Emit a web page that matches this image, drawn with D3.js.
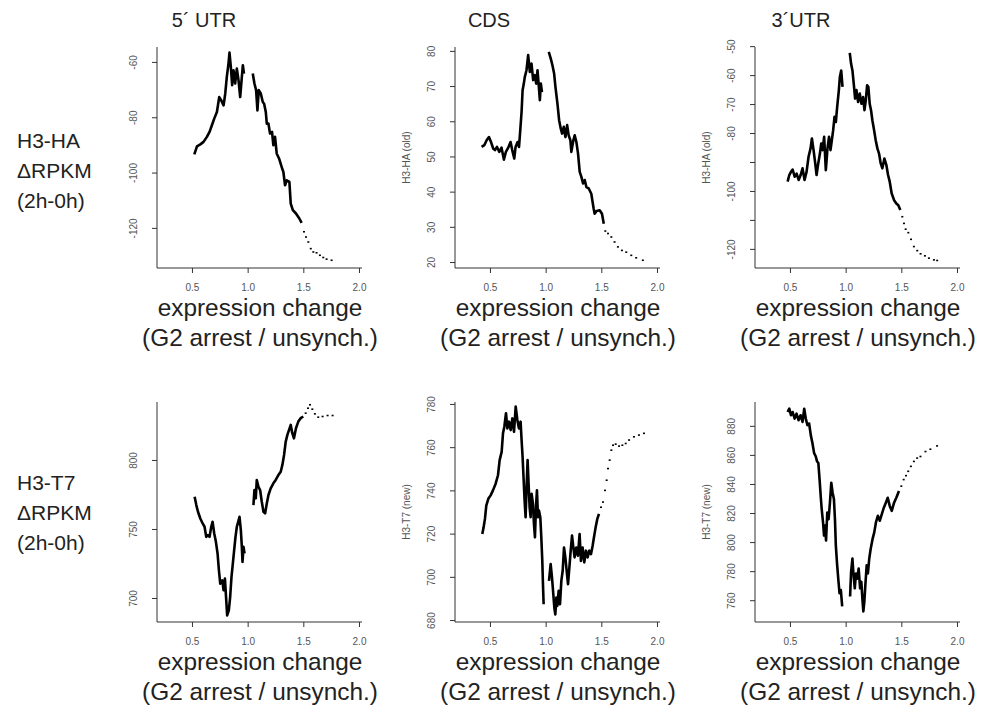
<!DOCTYPE html>
<html>
<head>
<meta charset="utf-8">
<script src="https://cdn.jsdelivr.net/npm/d3@7"></script>
<style>
  body { margin: 0; background: #fff; }
  text { font-family: "Liberation Sans", Arial, sans-serif; }
</style>
</head>
<body>
<div id="chart"></div>
<script>
// ---- data ----
const colTitles = ["5\u00b4 UTR", "CDS", "3\u00b4UTR"];
const rowLabels = [["H3-HA", "\u0394RPKM", "(2h-0h)"], ["H3-T7", "\u0394RPKM", "(2h-0h)"]];
const yTitles = [[null, "H3-HA (old)", "H3-HA (old)"], [null, "H3-T7 (new)", "H3-T7 (new)"]];
const xTitle = ["expression change", "(G2 arrest / unsynch.)"];
const xTicks = [0.5, 1.0, 1.5, 2.0];

// y ticks for each panel (row 1 then row 2)
const yTicks = [
  [-60, -80, -100, -120],
  [20, 30, 40, 50, 60, 70, 80],
  [-50, -60, -70, -80, -90, -100, -110, -120],
  [700, 750, 800],
  [680, 700, 720, 740, 760, 780],
  [760, 780, 800, 820, 840, 860, 880]
];
const yHidden = [[], [], [-90, -110], [], [], []]; // ticks drawn without a label

// H3-HA, 5'UTR  (null = gap)
const ha5_x = [0.521,0.545,0.575,0.604,0.634,0.658,0.679,0.70,0.724,0.745,0.763,0.784,0.799,0.813,0.828,0.837,0.849,0.861,0.873,0.888,0.903,0.918,0.933,0.948,0.957,0.967,0.99,
  1.046,1.061,1.076,1.088,1.10,1.118,1.136,1.148,1.163,1.172,1.187,1.201,1.219,1.231,1.246,1.261,1.282,1.306,1.321,1.336,1.351,1.375,1.387,1.406,1.434,1.464,1.485];
const ha5_y = [-93.4,-90.5,-89.8,-88.9,-87.1,-85.3,-82.9,-80.5,-78.1,-72.7,-73.9,-75.7,-71.4,-65.4,-60.6,-56.6,-61.8,-68.4,-63.0,-67.8,-62.4,-66.6,-72.7,-65.4,-61.2,-64.2,null,
  -64.2,-67.8,-70.2,-77.5,-70.2,-71.4,-74.5,-75.1,-78.1,-82.3,-82.3,-85.9,-85.3,-90.1,-87.1,-93.1,-94.9,-98.0,-99.8,-104.6,-102.8,-103.4,-111.2,-113.6,-114.8,-116.6,-118.2];
const ha5_tx = [1.506,1.524,1.545,1.567,1.590,1.619,1.649,1.679,1.709,1.754];
const ha5_ty = [-121.4,-123.3,-125.1,-127.5,-128.7,-129.0,-129.9,-130.7,-131.3,-131.7];

// H3-HA, CDS
const haC_x = [0.425,0.449,0.470,0.491,0.509,0.530,0.545,0.563,0.584,0.604,0.625,0.643,0.664,0.685,0.700,0.718,0.730,0.748,0.761,0.772,0.784,0.793,0.804,0.813,0.828,0.843,0.858,0.873,0.888,0.903,0.915,0.927,0.939,0.948,0.957,0.967,0.99,
  1.028,1.046,1.061,1.076,1.088,1.106,1.121,1.136,1.148,1.163,1.178,1.193,1.207,1.222,1.231,1.249,1.261,1.276,1.291,1.306,1.321,1.336,1.351,1.366,1.387,1.410,1.431,1.440,1.458,1.485,1.506,1.522];
const haC_y = [52.7,53.2,54.6,55.5,54.1,52.2,51.8,52.7,51.3,52.5,49.1,51.3,52.5,54.1,51.8,49.4,52.7,54.1,52.7,57.4,62.7,68.8,70.7,72.6,74.5,78.8,74.0,76.4,71.7,73.1,70.7,74.5,69.8,66.0,70.7,68.3,null,
  79.7,77.8,75.9,73.6,69.8,65.0,60.3,57.9,56.5,58.4,55.5,58.9,56.0,54.6,51.3,54.6,56.0,54.1,50.8,45.6,44.2,42.3,43.3,41.3,40.9,39.4,35.2,33.7,34.5,34.7,33.7,30.9];
const haC_tx = [1.536,1.560,1.590,1.619,1.649,1.685,1.724,1.769,1.813,1.873];
const haC_ty = [28.8,28.1,27.1,25.7,24.3,23.3,22.8,21.9,21.2,20.5];

// H3-HA, 3'UTR
const ha3_x = [0.479,0.494,0.509,0.524,0.542,0.560,0.578,0.596,0.613,0.631,0.649,0.667,0.685,0.697,0.712,0.727,0.739,0.754,0.769,0.781,0.793,0.807,0.822,0.837,0.851,0.864,0.876,0.888,0.900,0.912,0.924,0.939,0.948,0.960,0.972,0.99,
  1.037,1.049,1.061,1.073,1.085,1.097,1.112,1.127,1.142,1.157,1.169,1.181,1.193,1.204,1.216,1.228,1.240,1.258,1.270,1.285,1.300,1.315,1.330,1.348,1.366,1.381,1.396,1.413,1.434,1.455,1.473,1.491];
const ha3_y = [-96.8,-94.5,-93.4,-92.6,-95.1,-94.0,-96.2,-94.5,-92.2,-96.2,-93.4,-88.2,-85.3,-81.9,-85.9,-90.5,-94.5,-90.5,-87.1,-83.6,-85.9,-81.3,-92.8,-85.3,-81.3,-85.9,-82.5,-79.0,-74.4,-76.2,-71.0,-65.3,-60.7,-58.4,-64.1,null,
  -52.3,-56.1,-58.4,-63.0,-68.1,-65.2,-69.3,-66.4,-69.9,-67.6,-72.1,-68.7,-63.5,-64.1,-69.9,-72.1,-75.6,-79.6,-82.5,-85.3,-87.1,-90.5,-92.2,-88.8,-91.1,-94.5,-96.8,-100.8,-103.1,-104.3,-104.9,-106.6];
const ha3_tx = [1.509,1.524,1.539,1.563,1.587,1.613,1.643,1.673,1.712,1.748,1.793,1.822];
const ha3_ty = [-108.9,-111.2,-113.2,-114.4,-116.7,-119.2,-120.6,-121.7,-122.4,-123.2,-123.8,-124.0];

// H3-T7, 5'UTR
const t75_x = [0.524,0.539,0.554,0.575,0.596,0.613,0.628,0.643,0.658,0.673,0.685,0.700,0.715,0.730,0.742,0.754,0.772,0.784,0.796,0.807,0.816,0.831,0.843,0.855,0.867,0.879,0.891,0.903,0.915,0.927,0.939,0.948,0.954,0.963,0.972,1.0,
  1.052,1.061,1.073,1.082,1.097,1.112,1.127,1.142,1.157,1.172,1.187,1.207,1.231,1.252,1.276,1.297,1.312,1.327,1.342,1.357,1.372,1.387,1.401,1.416,1.434,1.455,1.476,1.500];
const t75_y = [773.4,767.3,762.5,757.6,754.0,751.6,744.3,745.5,744.3,751.6,755.2,746.7,740.7,732.2,720.1,710.4,712.8,705.6,714.0,699.5,687.4,691.0,700.7,715.3,724.9,734.6,744.3,751.6,755.2,758.8,749.2,737.0,726.2,737.0,732.2,null,
  767.3,778.2,772.2,785.5,780.6,778.2,769.7,762.5,761.3,768.5,774.6,779.4,783.1,785.5,789.1,791.5,796.4,803.6,813.3,818.2,821.8,825.4,819.4,815.7,823.0,827.8,830.3,831.5];
const t75_tx = [1.521,1.542,1.560,1.581,1.604,1.634,1.673,1.718,1.763];
const t75_ty = [833.9,837.5,840.0,836.8,833.4,831.0,831.5,832.2,832.2];

// H3-T7, CDS
const t7C_x = [0.431,0.443,0.455,0.467,0.485,0.506,0.527,0.551,0.572,0.587,0.605,0.617,0.629,0.644,0.656,0.671,0.686,0.701,0.716,0.731,0.746,0.760,0.775,0.784,0.793,0.802,0.811,0.820,0.829,0.838,0.847,0.856,0.865,0.874,0.886,0.895,0.904,0.913,0.922,0.931,0.940,0.952,0.961,0.970,0.976,0.982,1.0,
  1.030,1.045,1.057,1.069,1.078,1.087,1.096,1.105,1.117,1.129,1.141,1.153,1.165,1.177,1.189,1.201,1.213,1.225,1.237,1.249,1.260,1.275,1.290,1.305,1.317,1.332,1.347,1.362,1.377,1.392,1.407,1.422,1.434,1.449,1.464,1.479];
const t7C_y = [719.8,722.9,726.8,733.0,736.1,737.7,740.0,743.1,747.0,754.0,757.8,766.4,769.5,775.7,768.7,771.8,767.9,773.3,767.1,778.8,772.6,768.7,771.8,763.3,755.5,745.4,735.3,727.6,741.6,754.0,743.1,732.2,727.6,738.4,733.8,724.5,718.3,732.2,740.0,727.6,730.7,727.6,718.3,707.4,696.6,687.3,null,
  698.1,705.9,699.7,691.9,685.7,682.6,690.4,686.5,693.5,687.3,698.1,702.8,713.6,709.0,702.8,696.6,704.3,712.1,719.1,713.6,709.0,713.6,709.8,719.8,707.4,713.6,706.7,712.1,709.0,712.1,710.5,714.4,718.3,722.9,726.8,729.1];
const t7C_tx = [1.497,1.515,1.533,1.548,1.560,1.575,1.590,1.605,1.629,1.659,1.689,1.719,1.749,1.793,1.838,1.883];
const t7C_ty = [732.2,734.6,740.0,744.7,750.1,754.0,758.6,760.9,761.4,760.5,760.9,761.7,763.3,764.8,765.6,766.4];

// H3-T7, 3'UTR
const t73_x = [0.479,0.494,0.509,0.524,0.542,0.559,0.577,0.595,0.613,0.628,0.642,0.657,0.672,0.687,0.702,0.717,0.732,0.743,0.755,0.767,0.776,0.785,0.797,0.806,0.815,0.824,0.835,0.847,0.859,0.871,0.883,0.895,0.904,0.912,0.924,0.936,0.945,0.957,0.969,1.0,
  1.040,1.049,1.061,1.070,1.082,1.093,1.105,1.117,1.130,1.141,1.150,1.159,1.168,1.177,1.189,1.200,1.212,1.225,1.242,1.257,1.272,1.289,1.307,1.325,1.343,1.361,1.378,1.396,1.414,1.435,1.455,1.479];
const t73_y = [889.5,891.8,887.3,889.5,885.0,888.4,883.9,887.3,882.7,891.8,885.0,880.5,881.6,873.6,868.0,861.2,858.9,855.5,854.4,841.9,831.7,822.6,813.5,804.5,811.3,801.1,820.3,815.8,827.1,840.8,834.0,829.4,815.8,797.6,784.0,772.7,764.8,767.0,755.7,null,
  762.5,779.5,788.6,778.4,768.2,778.4,774.9,781.8,768.2,772.7,761.4,752.3,759.1,770.4,784.0,778.4,788.6,795.4,802.2,806.7,813.5,818.1,814.7,819.2,823.7,827.1,830.5,824.9,821.5,827.1,830.5,835.1];
const t73_tx = [1.500,1.521,1.542,1.562,1.586,1.613,1.642,1.672,1.717,1.761,1.821];
const t73_ty = [838.5,843.0,845.7,848.7,852.1,855.5,857.8,858.9,862.3,863.9,866.2];

const dense = [[ha5_x, ha5_y], [haC_x, haC_y], [ha3_x, ha3_y], [t75_x, t75_y], [t7C_x, t7C_y], [t73_x, t73_y]];
const tails = [[ha5_tx, ha5_ty], [haC_tx, haC_ty], [ha3_tx, ha3_ty], [t75_tx, t75_ty], [t7C_tx, t7C_ty], [t73_tx, t73_ty]];

// ---- layout ----
const W = 984, H = 712;
const colLeft = [157, 455, 755];
const rowTop = [47, 402], rowBottom = [268, 622];
const plotW = 205;
const xDomain = [0.186, 2.027];
const yDomains = [
  [-134.5, -54.6], [18.3, 81.1], [-126.6, -50.3],
  [682.6, 842], [679.1, 780.9], [745, 896.4]
];

const svg = d3.select("#chart").append("svg")
  .attr("width", W).attr("height", H);

// column titles
const titleX = [204, 489, 801];
colTitles.forEach((t, i) => {
  svg.append("text").attr("x", titleX[i]).attr("y", 27)
    .attr("text-anchor", "middle").attr("font-size", 20).attr("fill", "#222").text(t);
});

// row labels
rowLabels.forEach((lines, r) => {
  lines.forEach((t, k) => {
    svg.append("text").attr("x", 17).attr("y", [148, 490][r] + k * 30)
      .attr("font-size", 21).attr("fill", "#222").text(t);
  });
});

for (let r = 0; r < 2; r++) {
  for (let c = 0; c < 3; c++) {
    const i = r * 3 + c;
    const left = colLeft[c], top = rowTop[r], bottom = rowBottom[r];
    const x = d3.scaleLinear().domain(xDomain).range([left, left + plotW]);
    const y = d3.scaleLinear().domain(yDomains[i]).range([bottom, top]);
    const g = svg.append("g");

    // L-shaped box
    g.append("path")
      .attr("d", `M${left},${top}V${bottom}H${left + plotW}`)
      .attr("fill", "none").attr("stroke", "#333").attr("stroke-width", 1);

    // x axis
    const xa = g.append("g").attr("transform", `translate(0,${bottom})`)
      .call(d3.axisBottom(x).tickValues(xTicks).tickSize(5).tickFormat(d3.format(".1f")));
    xa.select(".domain").remove();
    xa.selectAll("line").attr("stroke", "#333");
    xa.selectAll("text").attr("y", 16).attr("font-size", 10).attr("fill", "#555")
      .attr("font-family", "Liberation Sans, Arial, sans-serif");

    // y axis
    const ya = g.append("g").attr("transform", `translate(${left},0)`)
      .call(d3.axisLeft(y).tickValues(yTicks[i]).tickSize(5)
        .tickFormat(d => yHidden[i].includes(d) ? "" : d));
    ya.select(".domain").remove();
    ya.selectAll("line").attr("stroke", "#333");
    ya.selectAll("text")
      .attr("x", 0).attr("y", -20).attr("dy", 0)
      .attr("transform", "rotate(-90)")
      .attr("text-anchor", "middle")
      .attr("font-size", 10).attr("fill", "#555")
      .attr("font-family", "Liberation Sans, Arial, sans-serif");

    // y axis title
    if (yTitles[r][c]) {
      g.append("text")
        .attr("transform", `translate(${left - 45},${(top + bottom) / 2}) rotate(-90)`)
        .attr("text-anchor", "middle").attr("font-size", 10).attr("fill", "#555")
        .text(yTitles[r][c]);
    }

    // x axis title
    xTitle.forEach((t, k) => {
      g.append("text").attr("x", left + 103).attr("y", bottom + 48 + k * 30)
        .attr("text-anchor", "middle").attr("font-size", 24.4).attr("fill", "#222").text(t);
    });

    // dense noisy trace
    const [dx, dy] = dense[i];
    const pts = dx.map((v, k) => [v, dy[k]]);
    g.append("path")
      .datum(pts)
      .attr("fill", "none").attr("stroke", "#000")
      .attr("stroke-width", 2.6).attr("stroke-linejoin", "round")
      .attr("d", d3.line().defined(d => d[1] !== null).x(d => x(d[0])).y(d => y(d[1])));

    // sparse tail as dots
    const [tx, ty] = tails[i];
    g.selectAll(".dot").data(tx.map((v, k) => [v, ty[k]])).enter()
      .append("rect").attr("class", "dot")
      .attr("x", d => x(d[0]) - 1).attr("y", d => y(d[1]) - 0.8)
      .attr("width", 2).attr("height", 1.6).attr("fill", "#000");
  }
}
</script>
</body>
</html>
